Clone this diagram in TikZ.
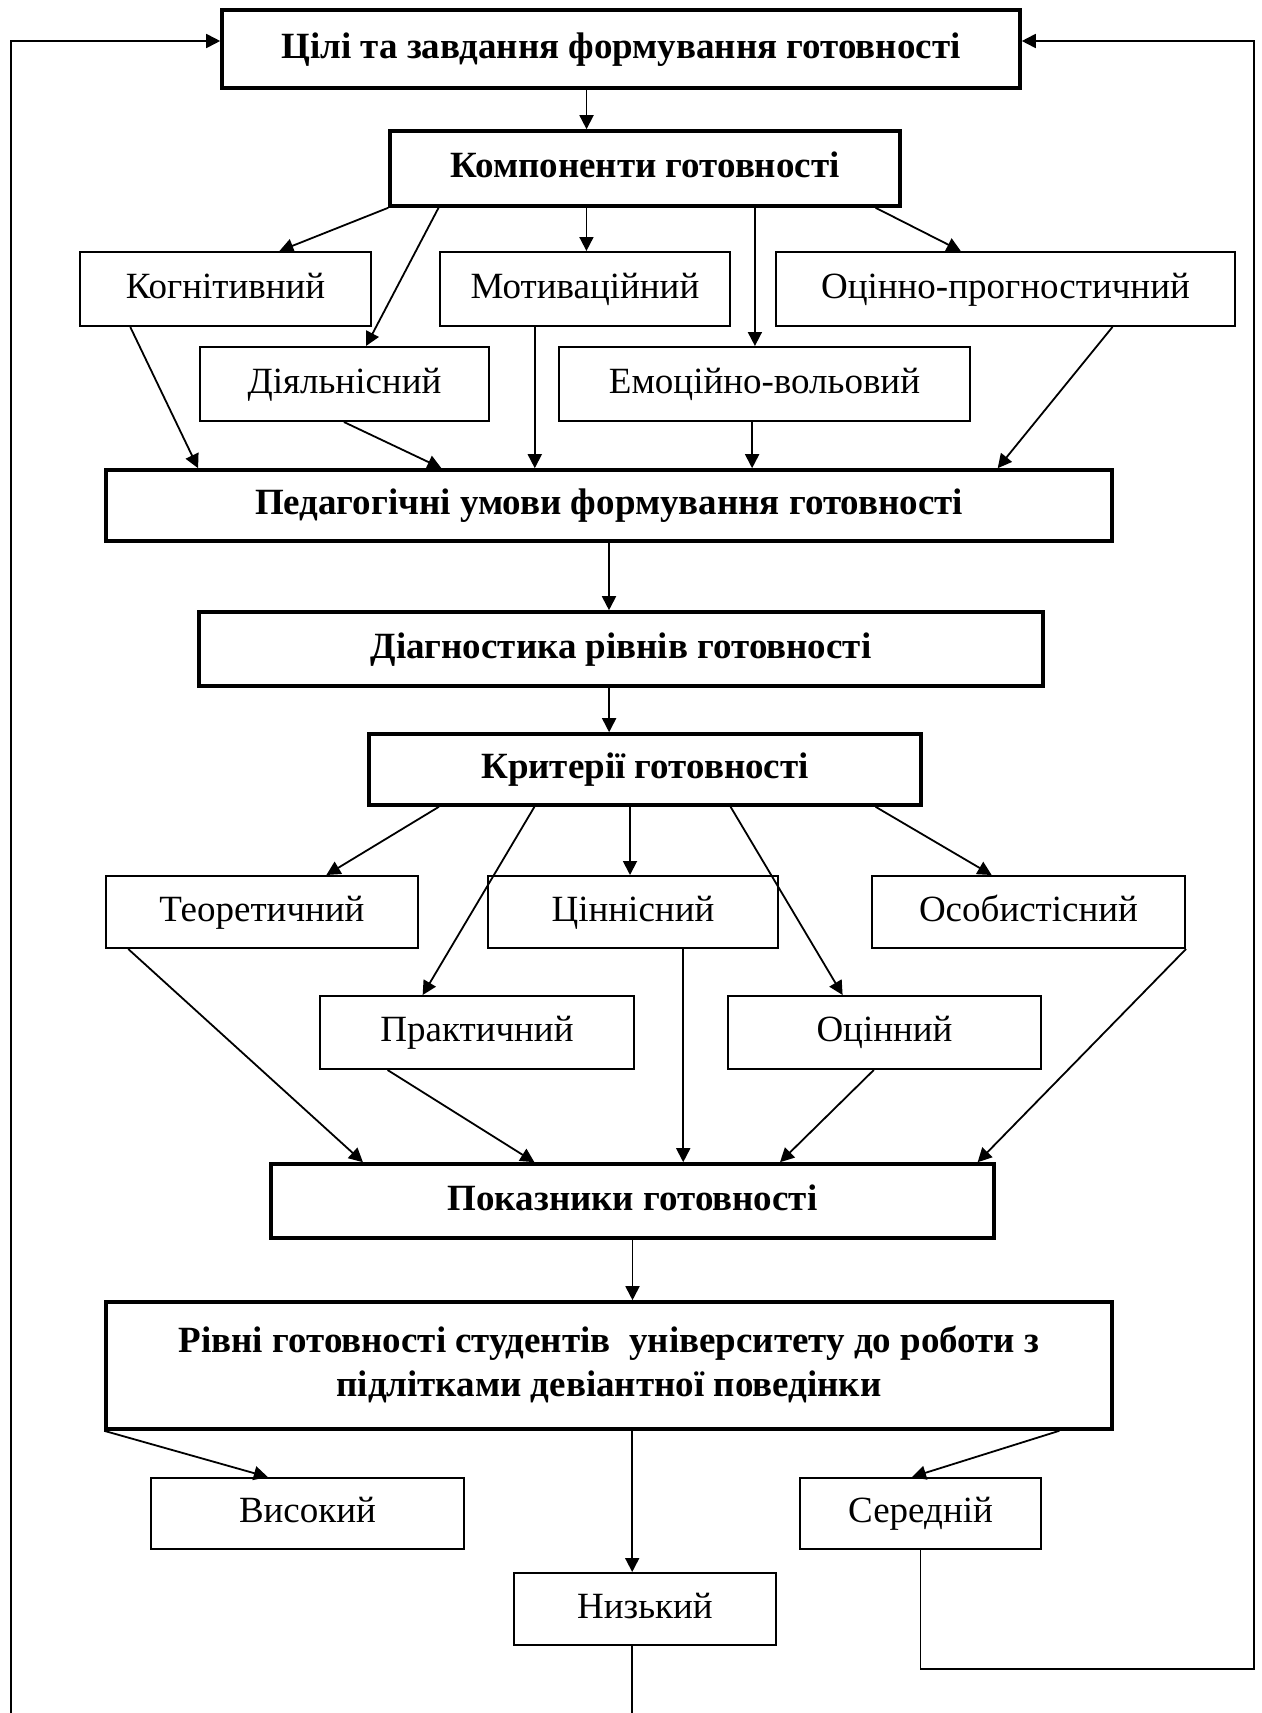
\documentclass[tikz,border=0pt]{standalone}
\usepackage{fontspec}
\setmainfont{Liberation Serif}
\usepackage{tikz}
\usetikzlibrary{calc}
\usetikzlibrary{arrows.meta}
\tikzset{arr/.style={-{Triangle[length=7pt,width=7pt]},line width=0.9pt}}
\newcommand{\compbox}[6]{\node[draw,line width=1pt,inner sep=0pt,text height=13pt,text depth=4pt,font=\fontsize{18.5}{22}\selectfont,minimum width={(#4-#2)*0.5pt},minimum height={(#5-#3)*0.5pt}] (#1) at ({(#2+#4)/2},{(#3+#5)/2}) {#6};}
\newcommand{\headbox}[7][]{\node[draw,line width=1.8pt,inner sep=0pt,align=center,text height=13pt,text depth=4pt,font=\fontsize{18.5}{22}\selectfont\bfseries,minimum width={(#5-#3)*0.5pt},minimum height={(#6-#4)*0.5pt},#1] (#2) at ({(#3+#5)/2},{(#4+#6)/2}) {#7};}
\newcommand{\conn}[4]{\draw[arr] ($(#1.south west)!#2!(#1.south east)$) -- ($(#3.north west)!#4!(#3.north east)$);}
\newcommand{\vconn}[3]{\coordinate (t) at ($(#1.south west)!#2!(#1.south east)$); \draw[arr] (t) -- (t |- #3.north);}

\begin{document}
\begin{tikzpicture}[x=0.5pt,y=-0.5pt]
        \useasboundingbox (0,0) rectangle (1262,1713);
        % main boxes
        \headbox{cili}{222}{10}{1020}{88}{Цілі та завдання формування готовності}
        \headbox{komp}{390}{131}{900}{206}{Компоненти готовності}
        \headbox{ped}{106}{470}{1112}{541}{Педагогічні умови формування готовності}
        \headbox{diag}{199}{612}{1043}{686}{Діагностика рівнів готовності}
        \headbox{krit}{369}{734}{921}{805}{Критерії готовності}
        \headbox{pokaz}{271}{1164}{994}{1238}{Показники готовності}
        \headbox[text height=35pt]{rivni}{106}{1302}{1112}{1429}{Рівні готовності студентів \ університету до роботи з\\ підлітками девіантної поведінки}

        % components
        \compbox{cogn}{80}{252}{371}{326}{Когнітивний}
        \compbox{motiv}{440}{252}{730}{326}{Мотиваційний}
        \compbox{ocpr}{776}{252}{1235}{326}{Оцінно-прогностичний}
        \compbox{dial}{200}{347}{489}{421}{Діяльнісний}
        \compbox{emo}{559}{347}{970}{421}{Емоційно-вольовий}

        % criteria
        \compbox{teor}{106}{876}{418}{948}{Теоретичний}
        \compbox{cinn}{488}{876}{778}{948}{Ціннісний}
        \compbox{osob}{872}{876}{1185}{948}{Особистісний}
        \compbox{prakt}{320}{996}{634}{1069}{Практичний}
        \compbox{ocin}{728}{996}{1041}{1069}{Оцінний}

        % levels
        \compbox{vys}{151}{1478}{464}{1549}{Високий}
        \compbox{ser}{800}{1478}{1041}{1549}{Середній}
        \compbox{nyz}{514}{1573}{776}{1645}{Низький}

        % arrows top part
        \vconn{cili}{0.457}{komp}
        \conn{komp}{0}{cogn}{0.684}
        \conn{komp}{0.098}{dial}{0.574}
        \vconn{komp}{0.386}{motiv}
        \vconn{komp}{0.714}{emo}
        \conn{komp}{0.949}{ocpr}{0.403}
        \conn{cogn}{0.175}{ped}{0.093}
        \conn{dial}{0.498}{ped}{0.334}
        \vconn{motiv}{0.328}{ped}
        \vconn{emo}{0.47}{ped}
        \conn{ocpr}{0.732}{ped}{0.885}
        \vconn{ped}{0.5}{diag}
        \vconn{diag}{0.486}{krit}

        % arrows criteria
        \conn{krit}{0.129}{teor}{0.705}
        \conn{krit}{0.301}{prakt}{0.328}
        \vconn{krit}{0.473}{cinn}
        \conn{krit}{0.654}{ocin}{0.367}
        \conn{krit}{0.915}{osob}{0.383}
        \conn{teor}{0.074}{pokaz}{0.129}
        \conn{prakt}{0.217}{pokaz}{0.365}
        \vconn{cinn}{0.672}{pokaz}
        \conn{ocin}{0.466}{pokaz}{0.703}
        \conn{osob}{1}{pokaz}{0.975}
        \vconn{pokaz}{0.5}{rivni}

        % arrows levels
        \conn{rivni}{0}{vys}{0.374}
        \vconn{rivni}{0.523}{nyz}
        \conn{rivni}{0.946}{ser}{0.465}

        % feedback lines
        \coordinate (nb) at ($(nyz.south west)!0.45!(nyz.south east)$);
        \coordinate (lb) at (11,1713);
        \coordinate (rb) at (1254,1669);
        \draw[line width=0.9pt] (nb) -- (nb |- lb);
        \draw[arr] (lb) |- ([yshift=4pt]cili.west);
        \draw[arr] (ser.south) |- (rb) |- ([yshift=4pt]cili.east);
\end{tikzpicture}
\end{document}
